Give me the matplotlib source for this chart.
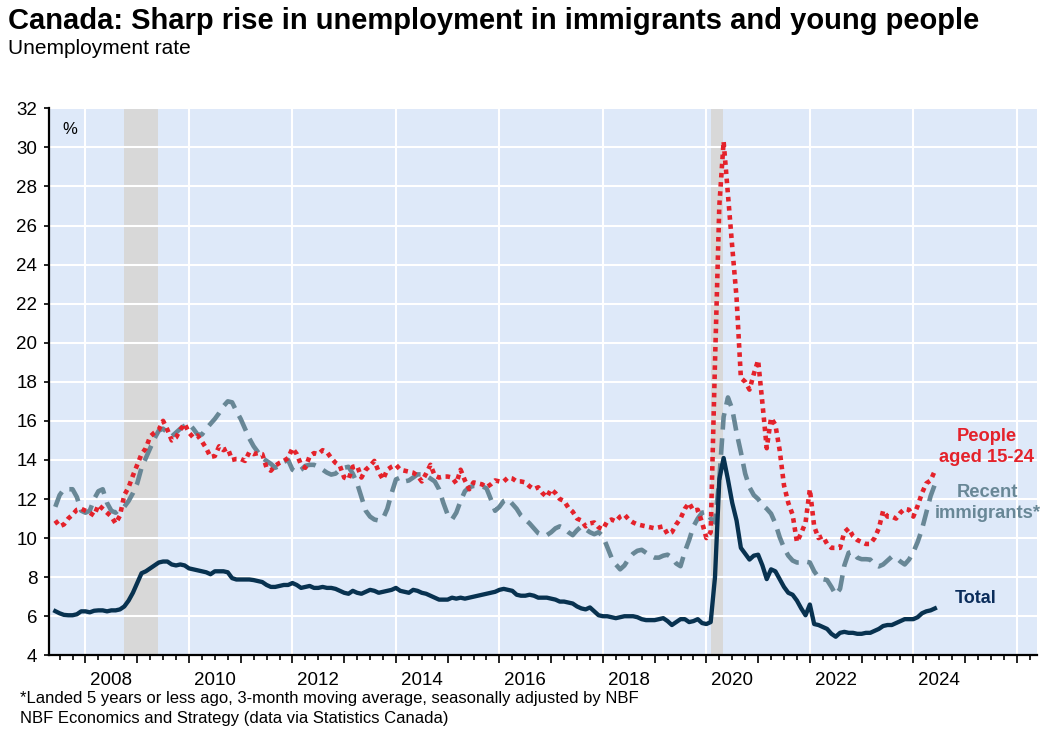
import numpy as np
import pandas as pd
import matplotlib
matplotlib.use('Agg')
import matplotlib.pyplot as plt

plt.rcParams['font.family'] = ['Liberation Sans', 'DejaVu Sans']

# monthly, Jun 2007 - Jun 2024
months = pd.date_range('2007-06-01', '2024-06-01', freq='MS')

total = [
    6.26, 6.15, 6.07, 6.05, 6.05, 6.1, 6.25,
    6.25, 6.2, 6.28, 6.3, 6.3, 6.25, 6.3, 6.3, 6.35, 6.5, 6.8, 7.2,
    7.7, 8.2, 8.3, 8.45, 8.6, 8.75, 8.8, 8.8, 8.65, 8.6, 8.65, 8.6,
    8.45, 8.4, 8.35, 8.3, 8.25, 8.15, 8.3, 8.3, 8.3, 8.25, 7.95, 7.88,
    7.88, 7.88, 7.88, 7.85, 7.8, 7.75, 7.6, 7.5, 7.5, 7.55, 7.6, 7.6,
    7.7, 7.6, 7.45, 7.5, 7.55, 7.45, 7.45, 7.5, 7.45, 7.45, 7.4, 7.3,
    7.2, 7.15, 7.3, 7.2, 7.15, 7.25, 7.35, 7.3, 7.2, 7.25, 7.3, 7.35,
    7.45, 7.3, 7.25, 7.2, 7.35, 7.3, 7.2, 7.15, 7.05, 6.95, 6.85, 6.85,
    6.85, 6.95, 6.9, 6.95, 6.9, 6.95, 7.0, 7.05, 7.1, 7.15, 7.2, 7.25,
    7.35, 7.4, 7.35, 7.3, 7.1, 7.05, 7.05, 7.1, 7.05, 6.95, 6.95, 6.95,
    6.9, 6.85, 6.75, 6.75, 6.7, 6.65, 6.5, 6.4, 6.35, 6.45, 6.25, 6.05,
    6.0, 6.0, 5.95, 5.9, 5.95, 6.0, 6.0, 6.0, 5.95, 5.85, 5.8, 5.8,
    5.8, 5.85, 5.9, 5.75, 5.55, 5.7, 5.85, 5.85, 5.7, 5.75, 5.85, 5.65,
    5.6, 5.7, 8.0, 13.0, 14.1, 13.0, 11.8, 10.9, 9.5, 9.2, 8.9, 9.1,
    9.15, 8.6, 7.9, 8.4, 8.3, 7.9, 7.5, 7.2, 7.1, 6.8, 6.4, 6.05,
    6.6, 5.6, 5.55, 5.45, 5.35, 5.1, 4.95, 5.15, 5.2, 5.15, 5.15, 5.1,
    5.1, 5.15, 5.15, 5.25, 5.35, 5.5, 5.55, 5.55, 5.65, 5.75, 5.85, 5.85,
    5.85, 5.95, 6.15, 6.25, 6.3, 6.4,
]

recent_immigrants = [
    11.6, 12.2, 12.5, 12.5, 12.5, 12.1, 11.4,
    11.3, 11.4, 12.0, 12.4, 12.5, 11.8, 11.4, 11.3, 11.5, 11.6, 11.9, 12.3,
    12.8, 13.6, 14.1, 14.6, 15.1, 15.5, 15.6, 15.4, 15.2, 15.4, 15.6, 15.75,
    15.85, 15.6, 15.3, 15.3, 15.6, 15.85, 16.1, 16.4, 16.75, 17.0, 16.95, 16.5,
    16.1, 15.6, 15.1, 14.7, 14.4, 14.1, 13.95, 13.8, 13.6, 13.7, 13.9, 14.0,
    13.5, 13.35, 13.5, 13.7, 13.75, 13.75, 13.65, 13.5, 13.35, 13.25, 13.3, 13.5,
    13.6, 13.65, 13.3, 12.8, 12.1, 11.4, 11.1, 10.95, 10.9, 11.0, 11.5, 12.3,
    13.0, 13.1, 12.9, 12.95, 13.1, 13.26, 13.26, 13.2, 13.05, 12.9, 12.5, 11.8,
    11.2, 10.95, 11.3, 11.9, 12.4, 12.6, 12.67, 12.67, 12.65, 12.55, 12.0, 11.4,
    11.6, 11.9, 12.0, 11.75, 11.5, 11.15, 10.95, 10.75, 10.5, 10.25, 10.15, 10.15,
    10.3, 10.5, 10.6, 10.5, 10.3, 10.15, 10.4, 10.6, 10.45, 10.3, 10.2, 10.3,
    10.1, 9.55, 9.0, 8.65, 8.4, 8.6, 8.95, 9.2, 9.35, 9.4, 9.25, 9.1,
    9.0, 9.0, 9.1, 9.15, 9.0, 8.7, 8.56, 9.3, 9.9, 10.6, 11.0, 11.3,
    11.35, 11.0, 10.8, 13.0, 16.2, 17.2, 16.6, 15.4, 14.4, 13.3, 12.6, 12.2,
    12.0, 11.7, 11.5, 11.25, 10.75, 10.05, 9.5, 9.1, 8.85, 8.75, 8.75, 8.8,
    8.75, 8.3, 8.0, 7.9, 7.85, 7.5, 7.1, 7.4, 8.6, 9.25, 9.3, 9.0,
    8.92, 8.92, 8.9, 8.65, 8.55, 8.65, 8.85, 9.05, 9.0, 8.8, 8.65, 8.9,
    9.28, 9.8, 10.45, 11.3, 12.15, 12.75,
]

youth_15_24 = [
    10.9, 10.6, 10.7, 11.0, 11.2, 11.45, 11.5,
    11.4, 11.3, 11.15, 11.7, 11.5, 11.3, 11.1, 10.75, 11.15, 12.2, 12.6, 13.2,
    13.75, 14.3, 14.6, 15.2, 15.4, 15.55, 16.0, 15.55, 15.0, 15.15, 15.55, 15.85,
    15.4, 15.15, 15.25, 14.95, 14.6, 14.15, 14.2, 14.7, 14.5, 14.6, 14.0, 14.05,
    14.05, 13.95, 14.4, 14.3, 14.35, 14.3, 13.6, 13.45, 13.7, 13.85, 13.95, 14.1,
    14.6, 14.3, 13.75, 13.6, 14.2, 14.35, 14.3, 14.5, 14.4, 14.1, 13.85, 13.7,
    13.1, 13.0, 13.65, 13.7, 13.1, 13.5, 13.7, 13.95, 13.4, 13.0, 13.5, 13.65,
    13.75, 13.5, 13.45, 13.4, 13.35, 13.2, 12.9, 13.3, 13.75, 13.2, 13.1, 13.15,
    13.15, 13.1, 12.8, 13.5, 12.95, 12.5, 12.85, 12.8, 12.75, 12.6, 12.75, 12.95,
    12.9, 12.9, 13.1, 13.05, 12.9, 12.9, 12.85, 12.65, 12.5, 12.6, 12.3, 12.1,
    12.5, 12.3, 12.0, 11.9, 11.55, 11.35, 11.0, 10.9, 10.6, 10.75, 10.8, 10.55,
    10.45, 10.85, 10.95, 10.85, 11.1, 11.2, 10.95, 10.8, 10.7, 10.65, 10.6, 10.55,
    10.5, 10.55, 10.6, 10.2, 10.3, 10.7, 11.0, 11.5, 11.8, 11.4, 11.45, 10.8,
    10.0, 10.3, 19.0, 27.0, 30.3, 27.6, 24.9, 22.3, 18.2, 18.0, 17.6, 18.4,
    19.1, 16.9, 14.6, 16.15, 15.8, 14.5, 12.7, 11.8, 11.2, 9.8, 10.25, 10.8,
    12.5, 10.6, 10.0, 10.1, 9.7, 9.5, 9.5, 9.5, 10.3, 10.5, 10.1, 9.9,
    9.8, 9.7, 9.7, 10.0, 10.5, 11.4, 11.1, 11.1, 11.0, 11.3, 11.5, 11.45,
    11.1, 11.65, 12.3, 12.8, 12.95, 13.45,
]

recessions = [(2008.75, 2009.40), (2020.08, 2020.33)]
label_years = list(range(2008, 2025, 2))

x = months.year + (months.month - 1) / 12

fig = plt.figure(figsize=(10.42, 7.33), dpi=100)
ax = fig.add_axes([49 / 1042, 1 - 655.3 / 733, 988 / 1042, 547 / 733])
ax.set_facecolor('#dee9f9')

for start, end in recessions:
    ax.axvspan(start, end, color='#d8d8d8', lw=0, zorder=0.2)

ax.set_axisbelow(True)
ax.grid(axis='y', color='white', lw=1.5)
for yr in range(2008, 2027, 2):
    ax.axvline(yr, color='white', lw=1.5, zorder=0.5)

ax.plot(x, recent_immigrants, color='#688796', lw=3.3, dashes=(3.6, 1.9), zorder=3)
ax.plot(x, youth_15_24, color='#e4222b', lw=3.3, dashes=(1.0, 1.0), zorder=4)
ax.plot(x, total, color='#083250', lw=3.1, zorder=5)

ax.set_xlim(2007.295, 2026.39)
ax.set_ylim(4, 32)
ax.set_yticks(range(4, 33, 2))

ax.set_xticks(range(2008, 2027))
ax.set_xticklabels([])
ax.set_xticks(np.arange(2007.5, 2026.4, 0.25), minor=True)
ax.tick_params(axis='x', which='major', length=6, width=1.2, color='black')
ax.tick_params(axis='x', which='minor', length=3.5, width=1.2, color='black')
ax.tick_params(axis='y', length=3.5, width=1.2, pad=5, labelsize=13.5)

sec = ax.secondary_xaxis('bottom')
sec.set_xticks([yr + 0.5 for yr in label_years])
sec.set_xticklabels([str(yr) for yr in label_years], fontsize=13.5)
sec.tick_params(length=0, pad=12)
sec.spines['bottom'].set_visible(False)

for side in ['top', 'right']:
    ax.spines[side].set_visible(False)
for side in ['left', 'bottom']:
    ax.spines[side].set_linewidth(1.6)
    ax.spines[side].set_color('black')

ax.text(0.014, 0.962, '%', transform=ax.transAxes, fontsize=12, va='center', ha='left')

ax.text(2025.42, 14.66, 'People\naged 15-24', color='#e4222b', fontsize=13.2,
        fontweight='bold', ha='center', va='center', linespacing=1.3)
ax.text(2025.44, 11.8, 'Recent\nimmigrants*', color='#688796', fontsize=13.2,
        fontweight='bold', ha='center', va='center', linespacing=1.25)
ax.text(2025.2, 6.9, 'Total', color='#0b2d5b', fontsize=13,
        fontweight='bold', ha='center', va='center')

fig.text(8 / 1042, 1 - 29 / 733, 'Canada: Sharp rise in unemployment in immigrants and young people',
         fontsize=21, fontweight='bold', va='baseline', ha='left')
fig.text(8 / 1042, 1 - 54 / 733, 'Unemployment rate', fontsize=15, va='baseline', ha='left')
fig.text(20 / 1042, 1 - 703 / 733,
         '*Landed 5 years or less ago, 3-month moving average, seasonally adjusted by NBF',
         fontsize=12, va='baseline', ha='left')
fig.text(20 / 1042, 1 - 723 / 733, 'NBF Economics and Strategy (data via Statistics Canada)',
         fontsize=12, va='baseline', ha='left')

fig.savefig('out.png', dpi=100)
